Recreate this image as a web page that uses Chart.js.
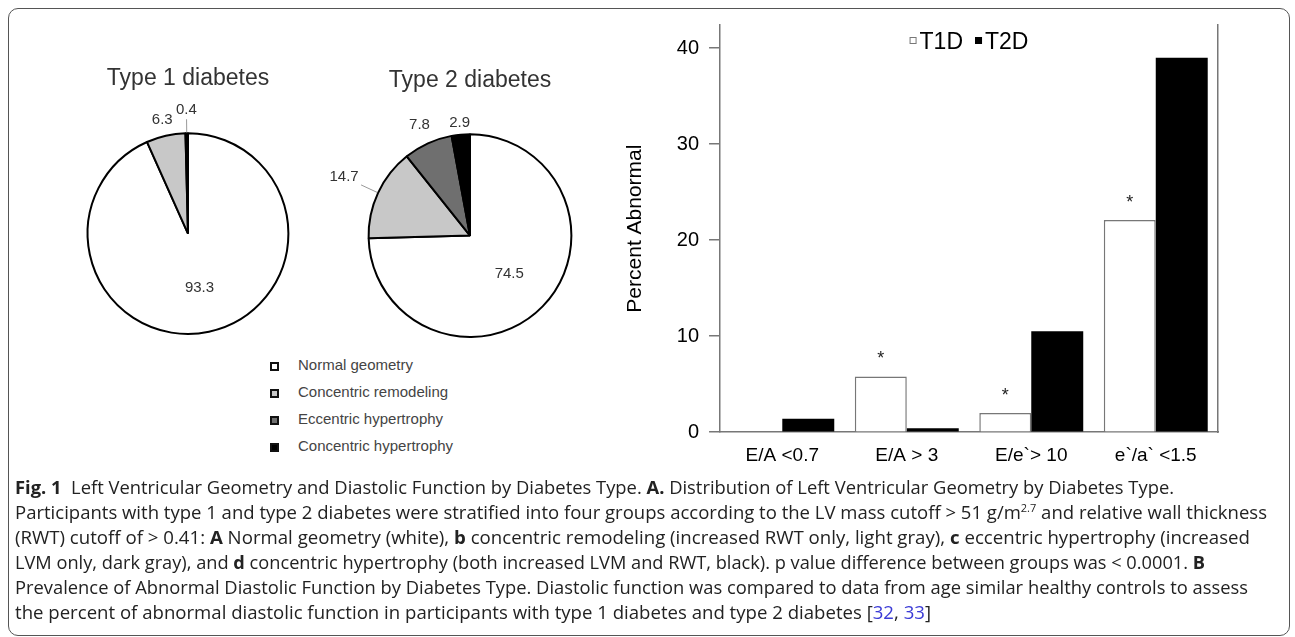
<!DOCTYPE html>
<html>
<head>
<meta charset="utf-8">
<script src="https://cdn.jsdelivr.net/npm/chart.js@4.4.1/dist/chart.umd.min.js"></script>
<style>
  body { margin: 0; width: 1295px; height: 637px; overflow: hidden; position: relative; background: #fff; font-family: Arial, "Liberation Sans", sans-serif; }
  .frame { position: absolute; left: 8px; top: 8px; width: 1282px; height: 628px; box-sizing: border-box; border: 1.5px solid #555; border-radius: 10px; }
  canvas { position: absolute; }
  .geo-row { position: absolute; left: 270px; height: 20px; line-height: 20px; font-size: 15px; color: #444; white-space: nowrap; }
  .geo-box { display: inline-block; width: 9px; height: 9px; box-sizing: border-box; border: 2.5px solid #111; margin-right: 19px; vertical-align: -1px; }
  .cap { position: absolute; left: 15px; white-space: nowrap; font-family: "Open Sans", sans-serif; font-size: 18.5px; line-height: 24px; color: #222; transform-origin: 0 50%; }
  .cap b { font-weight: 700; }
  .cap .ref { color: #3b3bd6; }
  .cap .sup { font-size: 11px; vertical-align: 7px; line-height: 0; }
</style>
</head>
<body>
<div class="frame"></div>
<canvas id="pie1" width="250" height="300" style="left:63px;top:40px"></canvas>
<canvas id="pie2" width="281" height="300" style="left:315px;top:40px"></canvas>
<canvas id="bars" width="628" height="480" style="left:600px;top:0px"></canvas>
<div id="geoLegend"></div>

<div class="cap" style="top:475px"><b>Fig. 1</b>&nbsp; Left Ventricular Geometry and Diastolic Function by Diabetes Type. <b>A.</b> Distribution of Left Ventricular Geometry by Diabetes Type.</div>
<div class="cap" style="top:500px">Participants with type 1 and type 2 diabetes were stratified into four groups according to the LV mass cutoff &gt; 51 g/m<span class="sup">2.7</span> and relative wall thickness</div>
<div class="cap" style="top:525px">(RWT) cutoff of &gt; 0.41: <b>A</b> Normal geometry (white), <b>b</b> concentric remodeling (increased RWT only, light gray), <b>c</b> eccentric hypertrophy (increased</div>
<div class="cap" style="top:550px">LVM only, dark gray), and <b>d</b> concentric hypertrophy (both increased LVM and RWT, black). p value difference between groups was &lt; 0.0001. <b>B</b></div>
<div class="cap" style="top:575px">Prevalence of Abnormal Diastolic Function by Diabetes Type. Diastolic function was compared to data from age similar healthy controls to assess</div>
<div class="cap" style="top:600px">the percent of abnormal diastolic function in participants with type 1 diabetes and type 2 diabetes [<span class="ref">32</span>, <span class="ref">33</span>]</div>

<script>
// pie data (percent of participants)
const geometryTypes = ['Normal geometry', 'Concentric remodeling', 'Eccentric hypertrophy', 'Concentric hypertrophy'];
const type1Values = [93.3, 6.3, 0, 0.4];
const type2Values = [74.5, 14.7, 7.8, 2.9];

// bar data (percent abnormal)
const diastolicLabels = ['E/A <0.7', 'E/A > 3', 'E/e`> 10', 'e`/a` <1.5'];
const t1dValues = [0, 5.8, 2.0, 22.1];
const t2dValues = [1.4, 0.4, 10.5, 39.0];
const significance = ['', '*', '*', '*'];
const yTicks = [0, 10, 20, 30, 40];

// styles
const geoColors = ['#ffffff', '#c8c8c8', '#6f6f6f', '#000000'];
const t1LabelDist = [0.55, 1.16, 0, 1.23];
const t2LabelDist = [0.54, 1.37, 1.2, 1.12];

Chart.defaults.font.family = 'Arial, "Liberation Sans", sans-serif';
Chart.defaults.animation = false;

// value labels on the pies, with a leader line for the ones pushed further out
const pieLabels = {
  id: 'pieLabels',
  afterDatasetsDraw(chart, args, opts) {
    const ctx = chart.ctx;
    const values = chart.data.datasets[0].data;
    ctx.save();
    ctx.font = '15px Arial';
    ctx.fillStyle = '#333';
    ctx.textAlign = 'center';
    ctx.textBaseline = 'middle';
    chart.getDatasetMeta(0).data.forEach((arc, i) => {
      const v = values[i];
      if (!v) return;
      const p = arc.getProps(['x', 'y', 'startAngle', 'endAngle', 'outerRadius'], true);
      const mid = (p.startAngle + p.endAngle) / 2;
      const d = opts.dist[i] * p.outerRadius;
      const c = Math.cos(mid), s = Math.sin(mid);
      const lx = p.x + c * d, ly = p.y + s * d;
      const txt = v.toFixed(1);
      if (opts.dist[i] > 1.22) {
        const hw = ctx.measureText(txt).width / 2;
        const back = Math.abs(c) * hw + Math.abs(s) * 6 + 3;
        ctx.strokeStyle = '#999';
        ctx.lineWidth = 1;
        ctx.beginPath();
        ctx.moveTo(p.x + c * (p.outerRadius + 1), p.y + s * (p.outerRadius + 1));
        ctx.lineTo(p.x + c * (d - back), p.y + s * (d - back));
        ctx.stroke();
      }
      ctx.fillText(txt, lx, ly);
    });
    ctx.restore();
  }
};

function makePie(id, title, values, dist, pad, titlePad) {
  return new Chart(document.getElementById(id), {
    type: 'pie',
    data: {
      labels: geometryTypes,
      datasets: [{
        data: values,
        backgroundColor: geoColors,
        borderColor: '#000',
        borderWidth: 2
      }]
    },
    options: {
      responsive: false,
      events: [],
      layout: { padding: pad },
      plugins: {
        legend: { display: false },
        tooltip: { enabled: false },
        title: {
          display: true,
          text: title,
          color: '#333',
          font: { size: 23, weight: 'normal' },
          padding: titlePad
        },
        pieLabels: { dist: dist }
      }
    },
    plugins: [pieLabels]
  });
}

makePie('pie1', 'Type 1 diabetes', type1Values, t1LabelDist,
  { left: 23, right: 23, top: 0, bottom: 5 }, { top: 24.8, bottom: 39.8 });
makePie('pie2', 'Type 2 diabetes', type2Values, t2LabelDist,
  { left: 52, right: 23, top: 0, bottom: 2 }, { top: 26.8, bottom: 38.8 });

// shared legend for the pies
const legendEl = document.getElementById('geoLegend');
geometryTypes.forEach((name, i) => {
  const row = document.createElement('div');
  row.className = 'geo-row';
  row.style.top = (355 + i * 27) + 'px';
  const box = document.createElement('span');
  box.className = 'geo-box';
  box.style.background = geoColors[i];
  row.appendChild(box);
  row.appendChild(document.createTextNode(name));
  legendEl.appendChild(row);
});

// small legend inside the plot, box right next to text
const barLegend = {
  id: 'barLegend',
  afterDraw(chart) {
    const { ctx, chartArea } = chart;
    ctx.save();
    ctx.font = '23px Arial';
    const box = 7, gap = 3, sep = 12;
    const items = chart.data.datasets.map(ds => ({ ds, w: ctx.measureText(ds.label).width }));
    const total = items.reduce((a, it) => a + box + gap + it.w, 0) + sep * (items.length - 1);
    let x = (chartArea.left + chartArea.right) / 2 - total / 2;
    const base = chartArea.top + 24;
    items.forEach(it => {
      const by = base - 8.5;
      ctx.fillStyle = it.ds.backgroundColor;
      ctx.fillRect(x, by - box / 2, box, box);
      ctx.strokeStyle = it.ds.borderColor;
      ctx.lineWidth = 1;
      ctx.strokeRect(x + 0.5, by - box / 2 + 0.5, box - 1, box - 1);
      x += box + gap;
      ctx.fillStyle = '#000';
      ctx.textBaseline = 'alphabetic';
      ctx.fillText(it.ds.label, x, base);
      x += it.w + sep;
    });
    ctx.restore();
  }
};

// significance stars over the T1D bars
const sigStars = {
  id: 'sigStars',
  afterDatasetsDraw(chart) {
    const ctx = chart.ctx;
    ctx.save();
    ctx.font = '18px Arial';
    ctx.fillStyle = '#222';
    ctx.textAlign = 'center';
    ctx.textBaseline = 'alphabetic';
    chart.getDatasetMeta(0).data.forEach((bar, i) => {
      if (significance[i]) ctx.fillText(significance[i], bar.x, bar.y - 12);
    });
    ctx.restore();
  }
};

new Chart(document.getElementById('bars'), {
  type: 'bar',
  data: {
    labels: diastolicLabels,
    datasets: [{
      label: 'T1D',
      data: t1dValues,
      backgroundColor: '#ffffff',
      borderColor: '#777',
      borderWidth: 1.5
    }, {
      label: 'T2D',
      data: t2dValues,
      backgroundColor: '#000000',
      borderColor: '#000000',
      borderWidth: 0
    }]
  },
  options: {
    responsive: false,
    events: [],
    categoryPercentage: 0.835,
    barPercentage: 1,
    layout: { padding: { top: 25, right: 10, bottom: 1, left: 0 } },
    scales: {
      x: {
        grid: { display: false, drawTicks: false },
        border: { display: true, color: '#777', width: 1.5 },
        ticks: { color: '#000', font: { size: 19 }, padding: 12 }
      },
      y: {
        min: 0,
        max: 42.4,
        afterBuildTicks: scale => { scale.ticks = yTicks.map(v => ({ value: v })); },
        grid: { drawOnChartArea: false, drawTicks: true, tickLength: 11, color: '#777', lineWidth: 1.5 },
        border: { display: true, color: '#777', width: 1.5 },
        ticks: { color: '#000', font: { size: 20 }, padding: 10 },
        title: {
          display: true,
          text: 'Percent Abnormal',
          color: '#000',
          font: { size: 21 },
          padding: { top: 22.4, bottom: 19.2 }
        }
      },
      yRight: {
        position: 'right',
        min: 0,
        max: 42.4,
        grid: { display: false, drawTicks: false },
        ticks: { display: false },
        border: { display: true, color: '#777', width: 1.5 }
      }
    },
    plugins: {
      legend: { display: false },
      tooltip: { enabled: false }
    }
  },
  plugins: [barLegend, sigStars]
});

// squeeze caption lines to the widths of the printed figure
const capRight = [1174, 1267, 1250, 1205, 1248, 931];
document.querySelectorAll('.cap').forEach((el, i) => {
  const w = el.getBoundingClientRect().width;
  el.style.transform = 'scaleX(' + ((capRight[i] - 15) / w).toFixed(4) + ')';
});
</script>
</body>
</html>
